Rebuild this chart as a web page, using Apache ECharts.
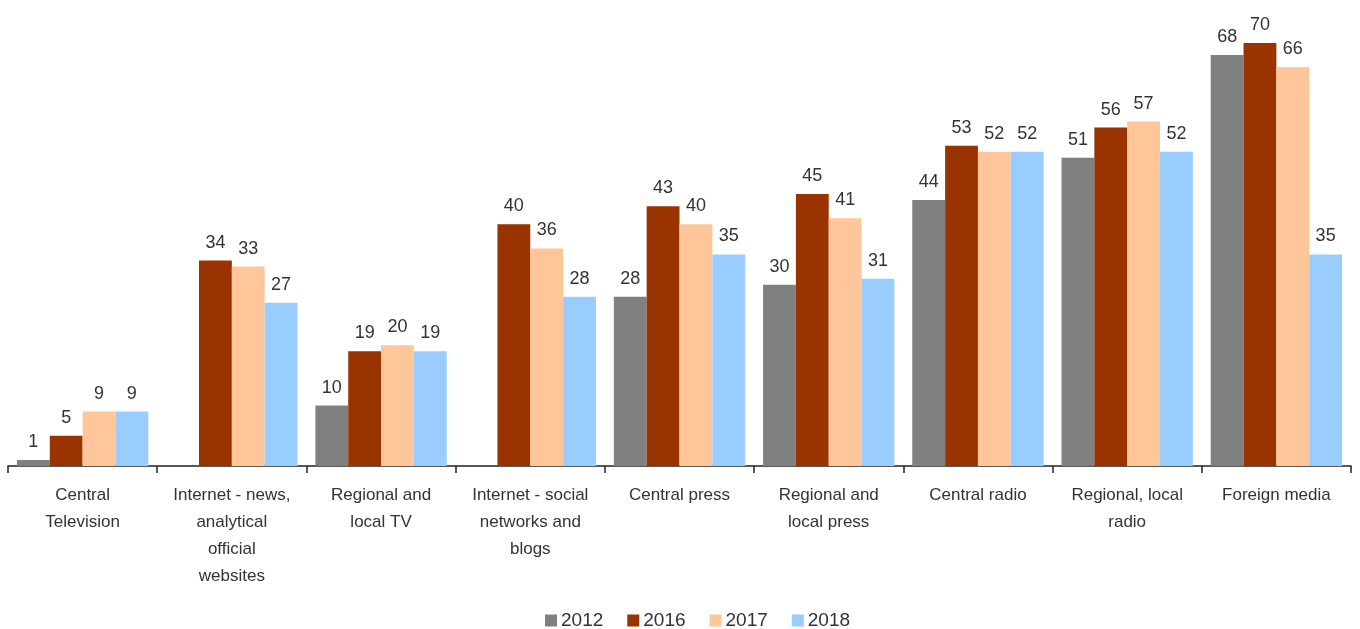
<!DOCTYPE html>
<html><head><meta charset="utf-8">
<script src="https://cdn.jsdelivr.net/npm/echarts@6/dist/echarts.min.js"></script>
<style>html,body{margin:0;padding:0;background:#fff}#c{width:1360px;height:629px}</style>
</head><body><div id="c"></div>
<script>
const categories = ["Central\nTelevision", "Internet - news,\nanalytical\nofficial\nwebsites", "Regional and\nlocal TV", "Internet - social\nnetworks and\nblogs", "Central press", "Regional and\nlocal press", "Central radio", "Regional, local\nradio", "Foreign media"];
const years = ["2012", "2016", "2017", "2018"];
const v2012 = [1, null, 10, null, 28, 30, 44, 51, 68];
const v2016 = [5, 34, 19, 40, 43, 45, 53, 56, 70];
const v2017 = [9, 33, 20, 36, 40, 41, 52, 57, 66];
const v2018 = [9, 27, 19, 28, 35, 31, 52, 52, 35];
const colors = ["#808080", "#993300", "#FFC799", "#99CCFF"];
const values = [v2012, v2016, v2017, v2018];
const font = "Liberation Sans, Arial, sans-serif";
const chart = echarts.init(document.getElementById('c'));
chart.setOption({
  animation: false,
  grid: {left: 8, right: 9, top: 43, bottom: 163},
  legend: {
    top: 606, left: 540, itemWidth: 12, itemHeight: 12, itemGap: 24,
    icon: 'rect',
    textStyle: {fontFamily: font, fontSize: 19, color: '#333', padding: [0,0,0,-1]},
    data: years
  },
  xAxis: {
    type: 'category', data: categories,
    axisLine: {lineStyle: {color: '#222', width: 1.5}},
    axisTick: {show: true, length: 7, lineStyle: {color: '#222', width: 1.5}},
    axisLabel: {interval: 0, fontFamily: font, fontSize: 17, color: '#333', lineHeight: 27, margin: 16}
  },
  yAxis: {type: 'value', min: 0, max: 70, show: false, splitLine: {show: false}},
  series: years.map((y, i) => ({
    name: y, type: 'bar', data: values[i], barGap: '0%', barCategoryGap: '12%',
    itemStyle: {color: colors[i]},
    label: {show: true, position: 'top', distance: 9, fontFamily: font, fontSize: 18, color: '#333'}
  }))
});
</script></body></html>
